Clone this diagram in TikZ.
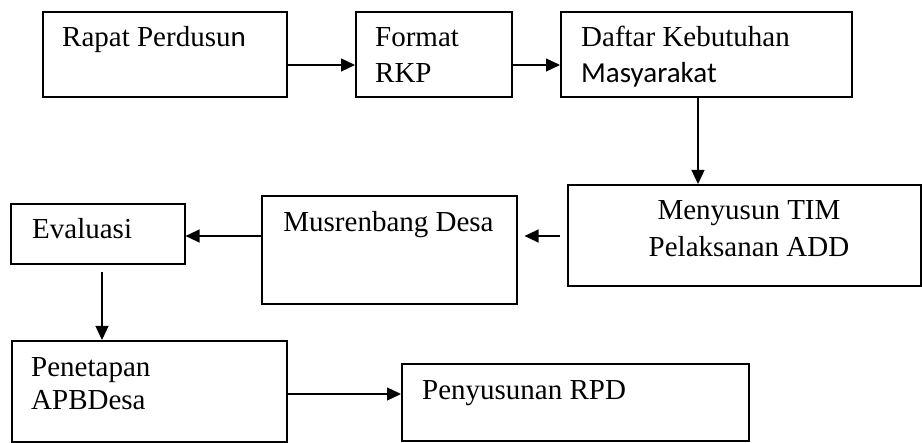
\documentclass[tikz,border=0pt]{standalone}
\usepackage{fontspec}
\setmainfont{Liberation Serif}
\newfontfamily\carlito{Carlito}
\usetikzlibrary{arrows.meta}
\tikzset{
  box/.style={draw=black, line width=1.6pt, inner sep=0pt, anchor=north west},
  arr/.style={line width=1.3pt, -{Triangle[length=14pt,width=13pt]}},
  lbl/.style={inner sep=0pt, anchor=base west, font=\fontsize{29}{36}\selectfont},
  clbl/.style={inner sep=0pt, anchor=base, font=\fontsize{29}{36}\selectfont}
}
\begin{document}
\begin{tikzpicture}[x=1pt,y=-1pt]
\useasboundingbox (0,0) rectangle (922,443);
% boxes
\node[box, minimum width=244pt, minimum height=85pt] (b1) at (42,11) {};
\node[box, minimum width=156pt, minimum height=85pt] (b2) at (355,11) {};
\node[box, minimum width=291pt, minimum height=85pt] (b3) at (560,11) {};
\node[box, minimum width=353pt, minimum height=101pt] (b4) at (567,184) {};
\node[box, minimum width=255pt, minimum height=108pt] (b5) at (261,195) {};
\node[box, minimum width=174pt, minimum height=60pt] (b6) at (10,203) {};
\node[box, minimum width=275pt, minimum height=101pt] (b7) at (11,340) {};
\node[box, minimum width=347pt, minimum height=77pt] (b8) at (401,363) {};
% texts
\node[lbl] (t1) at (62,47) {Rapat Perdusu{\carlito n}};
\node[lbl] (t2a) at (375,47) {Format};
\node[lbl] (t2b) at (375,83) {RKP};
\node[lbl] (t3a) at (581,47) {Daftar Kebutuhan};
\node[lbl, font=\carlito\fontsize{29}{36}\selectfont] (t3b) at (581,83) {Masyarakat};
\node[clbl] (t4a) at (749,220) {Menyusun TIM};
\node[clbl] (t4b) at (749,257) {Pelaksanan ADD};
\node[clbl] (t5) at (388.5,232) {Musrenbang Desa};
\node[lbl] (t6) at (32,239) {Evaluasi};
\node[lbl] (t7a) at (31,377) {Penetapan};
\node[lbl] (t7b) at (31,410) {APBDesa};
\node[lbl] (t8) at (422,400) {Penyusunan RPD};
% helper coordinates
\coordinate (r1) at (0,65);
\coordinate (c34) at (698,0);
\coordinate (r45) at (0,236);
\coordinate (c67) at (102,0);
\coordinate (r78) at (0,394);
% connectors
\draw[arr] (b1.east |- r1) -- (b2.west |- r1);
\draw[arr] (b2.east |- r1) -- (b3.west |- r1);
\draw[arr] (b3.south -| c34) -- (b4.north -| c34);
\draw[arr, shorten <=7pt, shorten >=7pt] (b4.west |- r45) -- (b5.east |- r45);
\draw[arr] (b5.west |- r45) -- (b6.east |- r45);
\draw[arr, shorten <=7pt] (b6.south -| c67) -- (b7.north -| c67);
\draw[arr] (b7.east |- r78) -- (b8.west |- r78);
\end{tikzpicture}
\end{document}
